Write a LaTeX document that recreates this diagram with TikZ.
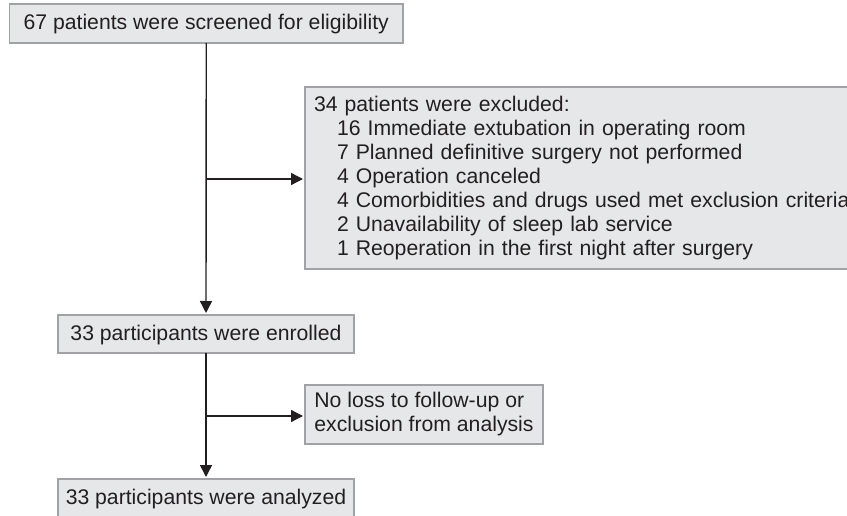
\documentclass[tikz,border=0pt]{standalone}
\usepackage{fontspec}
\setmainfont{Liberation Sans}
\usetikzlibrary{arrows.meta,calc}
\definecolor{boxfill}{RGB}{230,231,232}
\definecolor{boxline}{RGB}{160,162,165}
\definecolor{ink}{RGB}{35,31,32}
\begin{document}
\begin{tikzpicture}[x=1pt,y=-1pt,
  every node/.style={font=\fontsize{21.2}{24}\selectfont, text=ink},
  flowbox/.style={draw=boxline, fill=boxfill, line width=1.4pt, inner sep=0pt, outer sep=0pt, anchor=north west},
  onebox/.style={flowbox, align=center, text height=15.5pt, text depth=2.5pt},
  multibox/.style={flowbox, align=left, inner xsep=9pt},
  conn/.style={draw=ink, line width=1.4pt, -{Triangle[length=12pt,width=12pt]}, shorten >=2pt}
]
\useasboundingbox (0,0) rectangle (847,516);
\clip (0,0) rectangle (847,516);

\node[onebox, minimum width=393.5pt, minimum height=39pt] (screen) at (9.5,4)
  {67 patients were screened for eligibility};

\node[multibox, text width=582pt, minimum width=600pt, minimum height=182pt] (excl) at (305,87)
  {34 patients were excluded:\\
   \hspace*{23pt}16 Immediate extubation in operating room\\
   \hspace*{23pt}7 Planned definitive surgery not performed\\
   \hspace*{23pt}4 Operation canceled\\
   \hspace*{23pt}4 Comorbidities and drugs used met exclusion criteria\\
   \hspace*{23pt}2 Unavailability of sleep lab service\\
   \hspace*{23pt}1 Reoperation in the first night after surgery};

\node[onebox, minimum width=296pt, minimum height=38pt] (enrolled) at (58,315)
  {33 participants were enrolled};

\node[multibox, inner xsep=8pt, minimum width=238pt, minimum height=59pt] (noloss) at (305,385)
  {No loss to follow-up or\\exclusion from analysis};

\node[onebox, minimum width=296pt, minimum height=38pt] (analyzed) at (58,479)
  {33 participants were analyzed};

\coordinate (b1) at ($(screen.south)!0.5!(enrolled.north)$);
\coordinate (b2) at ($(enrolled.south)!0.5!(analyzed.north)$);

\draw[conn] (screen.south) -- (enrolled.north);
\draw[conn] (b1) -- (b1 -| excl.west);
\draw[conn] (enrolled.south) -- (analyzed.north);
\draw[conn] (b2) -- (b2 -| noloss.west);
\end{tikzpicture}
\end{document}
